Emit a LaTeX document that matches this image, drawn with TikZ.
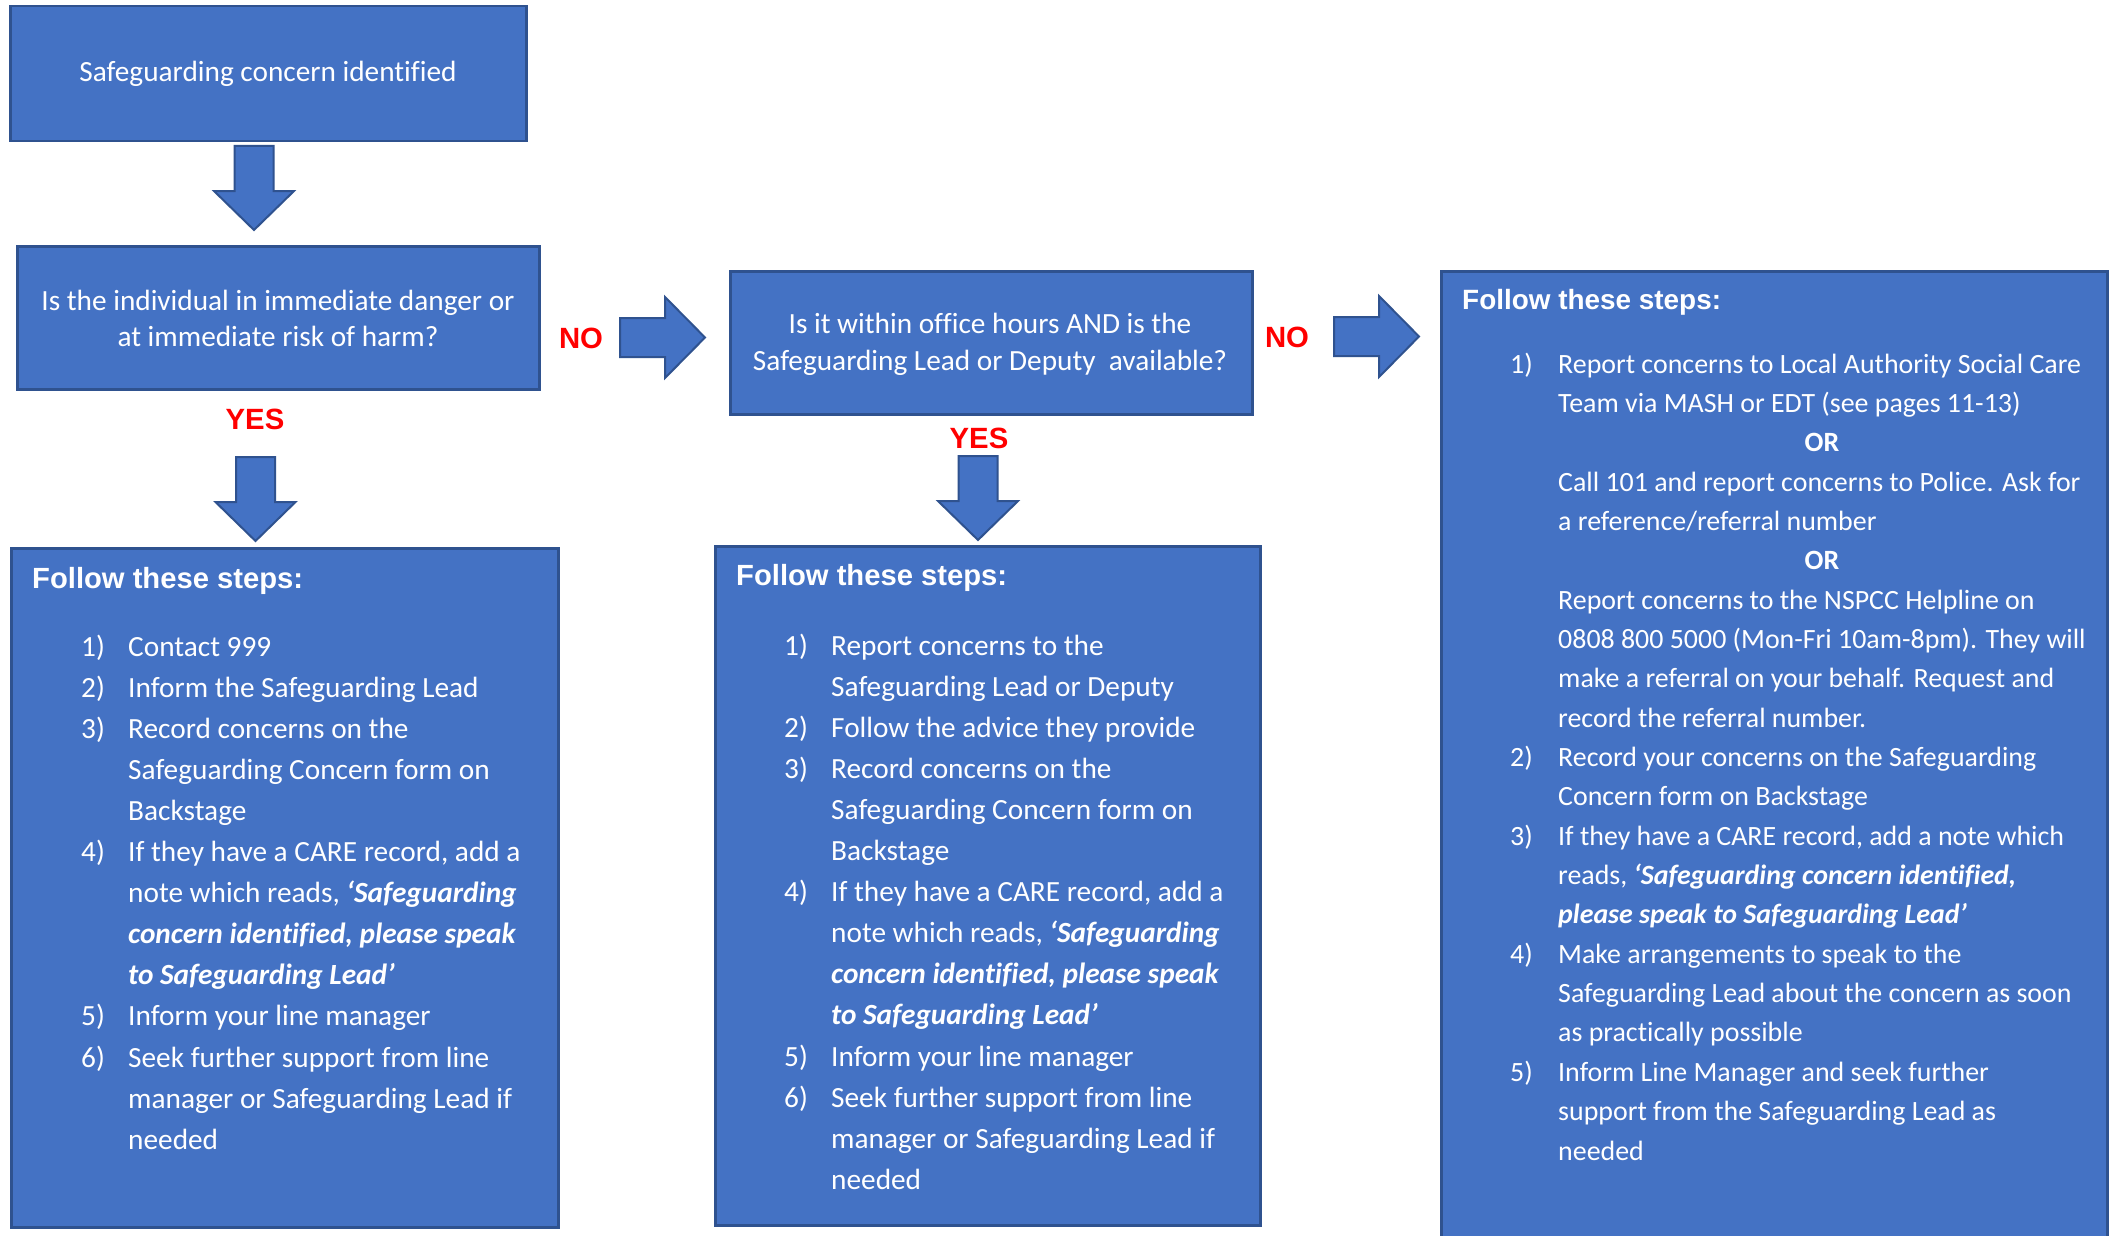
\documentclass[tikz,border=0pt]{standalone}
\usepackage{fontspec}
\setmainfont{Carlito}[Ligatures=CommonOff]
\newfontfamily\arialfont{Liberation Sans}
\definecolor{boxblue}{HTML}{4472C4}
\definecolor{boxline}{HTML}{2F528F}
\definecolor{lblred}{HTML}{FF0000}
\tikzset{
  box/.style={draw=boxline, fill=boxblue, line width=2.5pt, inner sep=0pt, anchor=north west},
  barrow/.style={draw=boxline, fill=boxblue, line width=2pt, line join=miter},
  ctxt/.style={text=white, inner sep=0pt, anchor=base, font=\fontsize{29.3}{36}\selectfont},
  stxt/.style={text=white, inner sep=0pt, anchor=base west, font=\fontsize{29.3}{41}\selectfont},
  rtxt/.style={text=white, inner sep=0pt, anchor=base west, font=\fontsize{27.9}{39}\selectfont},
  hdr/.style={text=white, inner sep=0pt, anchor=base west, font=\arialfont\bfseries\fontsize{29.2}{34}\selectfont},
  rhdr/.style={text=white, inner sep=0pt, anchor=base west, font=\arialfont\bfseries\fontsize{27.9}{34}\selectfont},
  lbl/.style={text=lblred, inner sep=0pt, anchor=base, font=\arialfont\bfseries\fontsize{29.3}{34}\selectfont},
  downarr/.pic={\draw[barrow] (-19.5,0) -- (19.5,0) -- (19.5,45) -- (40,45) -- (0,84) -- (-40,45) -- (-19.5,45) -- cycle;},
  rightarr/.pic={\draw[barrow] (0,-19.5) -- (45,-19.5) -- (45,-40.5) -- (85,0) -- (45,40.5) -- (45,19.5) -- (0,19.5) -- cycle;}
}
\newcommand{\bi}[1]{\textbf{\textit{#1}}}
\begin{document}
\begin{tikzpicture}[x=1pt,y=-1pt]
\useasboundingbox (0,0) rectangle (2113,1236);
\clip (0,0) rectangle (2113,1236);
\fill[white] (0,0) rectangle (2113,1236);

% boxes
\node[box, minimum width=516pt, minimum height=135pt] (b1) at (9,5) {};
\node[box, minimum width=522pt, minimum height=143pt] (b2) at (16,245) {};
\node[box, minimum width=522pt, minimum height=143pt] (b3) at (729,270) {};
\node[box, minimum width=547pt, minimum height=679pt] (b4) at (10,547) {};
\node[box, minimum width=545pt, minimum height=679pt] (b5) at (714,545) {};
\node[box, minimum width=666pt, minimum height=980pt] (b6) at (1440,270) {};

% box texts
\node[ctxt] (t1) at (268,82) {Safeguarding concern identified};
\node[ctxt] (t2a) at (278,310) {Is the individual in immediate danger or};
\node[ctxt] (t2b) at (278,346) {at immediate risk of harm?};
\node[ctxt] (t3a) at (990,333) {Is it within office hours AND is the};
\node[ctxt] (t3b) at (990,370) {Safeguarding Lead or Deputy\ \ available?};

% arrows
\pic at (254,146) {downarr};
\pic at (255.5,457) {downarr};
\pic at (978,456) {downarr};
\pic at (620,337.5) {rightarr};
\pic at (1334,336.5) {rightarr};

% labels
\node[lbl] (yes1) at (255,429) {YES};
\node[lbl] (yes2) at (979,448) {YES};
\node[lbl] (no1) at (581,348) {NO};
\node[lbl] (no2) at (1287,347) {NO};

% left steps box
\node[hdr] (h4) at (32,588) {Follow these steps:};
\foreach \r/\t in {1/{Contact 999}, 2/{Inform the Safeguarding Lead}, 3/{Record concerns on the},
  4/{Safeguarding Concern form on}, 5/{Backstage}, 6/{If they have a CARE record, add a},
  7/{note which reads, \bi{‘Safeguarding}}, 8/{\bi{concern identified, please speak}},
  9/{\bi{to Safeguarding Lead’}}, 10/{Inform your line manager}, 11/{Seek further support from line},
  12/{manager or Safeguarding Lead if}, 13/{needed}}
  \node[stxt] (L\r) at (128,{656+41.1*(\r-1)}) {\t};
\foreach \n/\r in {1/1,2/2,3/3,4/6,5/10,6/11}
  \node[stxt] (LN\n) at (81,{656+41.1*(\r-1)}) {\n)};

% middle steps box
\node[hdr] (h5) at (736,585) {Follow these steps:};
\foreach \r/\t in {1/{Report concerns to the}, 2/{Safeguarding Lead or Deputy}, 3/{Follow the advice they provide},
  4/{Record concerns on the}, 5/{Safeguarding Concern form on}, 6/{Backstage},
  7/{If they have a CARE record, add a}, 8/{note which reads, \bi{‘Safeguarding}},
  9/{\bi{concern identified, please speak}}, 10/{\bi{to Safeguarding Lead’}},
  11/{Inform your line manager}, 12/{Seek further support from line},
  13/{manager or Safeguarding Lead if}, 14/{needed}}
  \node[stxt] (M\r) at (831,{655+41.1*(\r-1)}) {\t};
\foreach \n/\r in {1/1,2/3,3/4,4/7,5/11,6/12}
  \node[stxt] (MN\n) at (784,{655+41.1*(\r-1)}) {\n)};

% right steps box
\node[rhdr] (h6) at (1462,309) {Follow these steps:};
\foreach \r/\t in {1/{Report concerns to Local Authority Social Care}, 2/{Team via MASH or EDT (see pages 11-13)},
  4/{Call 101 and report concerns to Police. Ask for}, 5/{a reference/referral number},
  7/{Report concerns to the NSPCC Helpline on}, 8/{0808 800 5000 (Mon-Fri 10am-8pm). They will},
  9/{make a referral on your behalf. Request and}, 10/{record the referral number.},
  11/{Record your concerns on the Safeguarding}, 12/{Concern form on Backstage},
  13/{If they have a CARE record, add a note which}, 14/{reads, \bi{‘Safeguarding concern identified,}},
  15/{\bi{please speak to Safeguarding Lead’}}, 16/{Make arrangements to speak to the},
  17/{Safeguarding Lead about the concern as soon}, 18/{as practically possible},
  19/{Inform Line Manager and seek further}, 20/{support from the Safeguarding Lead as}, 21/{needed}}
  \node[rtxt] (R\r) at (1558,{373+39.35*(\r-1)}) {\t};
\foreach \r in {3,6}
  \node[rtxt, anchor=base] (ROR\r) at (1822,{373+39.35*(\r-1)}) {\textbf{OR}};
\foreach \n/\r in {1/1,2/11,3/13,4/16,5/19}
  \node[rtxt] (RN\n) at (1510,{373+39.35*(\r-1)}) {\n)};
\end{tikzpicture}
\end{document}
